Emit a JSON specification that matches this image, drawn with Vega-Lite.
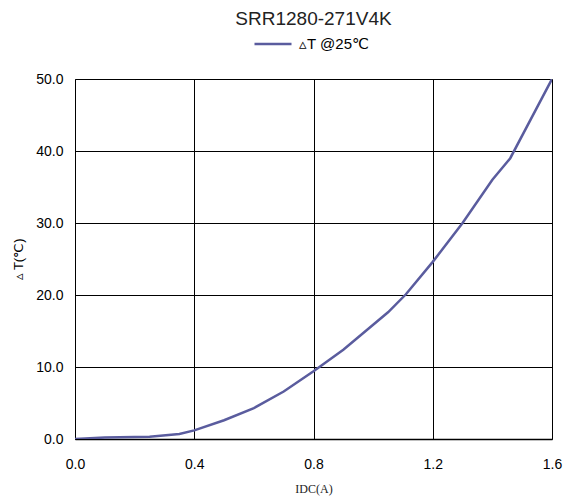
{
  "$schema": "https://vega.github.io/schema/vega-lite/v6.json",
  "width": 477,
  "height": 360,
  "autosize": {"type": "none"},
  "padding": {"left": 75, "top": 79, "right": 12, "bottom": 59},
  "background": "white",
  "title": {"text": "SRR1280-271V4K", "font": "Liberation Sans", "fontSize": 19, "fontWeight": "normal", "color": "#222222", "frame": "group", "offset": 8, "dy": 13},
  "data": {"values": [
    {"x": 0, "y": 0, "s": "▵T @25℃"},
    {"x": 0.1, "y": 0.2, "s": "▵T @25℃"},
    {"x": 0.25, "y": 0.3, "s": "▵T @25℃"},
    {"x": 0.35, "y": 0.7, "s": "▵T @25℃"},
    {"x": 0.4, "y": 1.2, "s": "▵T @25℃"},
    {"x": 0.5, "y": 2.6, "s": "▵T @25℃"},
    {"x": 0.6, "y": 4.3, "s": "▵T @25℃"},
    {"x": 0.7, "y": 6.6, "s": "▵T @25℃"},
    {"x": 0.8, "y": 9.4, "s": "▵T @25℃"},
    {"x": 0.9, "y": 12.4, "s": "▵T @25℃"},
    {"x": 1.05, "y": 17.6, "s": "▵T @25℃"},
    {"x": 1.11, "y": 20.1, "s": "▵T @25℃"},
    {"x": 1.2, "y": 24.6, "s": "▵T @25℃"},
    {"x": 1.3, "y": 30, "s": "▵T @25℃"},
    {"x": 1.4, "y": 36, "s": "▵T @25℃"},
    {"x": 1.46, "y": 39, "s": "▵T @25℃"},
    {"x": 1.6, "y": 50, "s": "▵T @25℃"}
  ]},
  "mark": {"type": "line", "strokeWidth": 2.5, "clip": true},
  "encoding": {
    "x": {"field": "x", "type": "quantitative",
      "scale": {"domain": [0, 1.6], "nice": false, "zero": false},
      "axis": {"title": "IDC(A)", "titleFont": "Liberation Serif", "titleFontSize": 12, "titleFontWeight": "normal", "titleColor": "#222", "titlePadding": 12,
        "values": [0, 0.4, 0.8, 1.2, 1.6], "format": ".1f", "labelFont": "Liberation Sans", "labelFontSize": 14, "labelColor": "#000", "labelPadding": 18, "labelFlush": false,
        "ticks": false, "grid": true, "gridColor": "#000", "gridOpacity": 1, "gridWidth": 1, "domainColor": "#000", "domainWidth": 1.5}},
    "y": {"field": "y", "type": "quantitative",
      "scale": {"domain": [0, 50], "nice": false},
      "axis": {"title": "▵ T(℃)", "titleFont": "Liberation Sans", "titleFontSize": 13, "titleFontWeight": "normal", "titleColor": "#000", "titlePadding": 10,
        "values": [0, 10, 20, 30, 40, 50], "format": ".1f", "labelFont": "Liberation Sans", "labelFontSize": 14, "labelColor": "#000", "labelPadding": 12,
        "ticks": false, "grid": true, "gridColor": "#000", "gridOpacity": 1, "gridWidth": 1, "domainColor": "#000", "domainWidth": 1}},
    "color": {"field": "s", "type": "nominal", "scale": {"range": ["#5a5c9e"]},
      "legend": {"title": null, "orient": "none", "legendX": 178, "legendY": -55, "symbolType": "stroke", "symbolSize": 1369, "symbolStrokeWidth": 2.5,
        "labelFont": "Liberation Sans", "labelFontSize": 15, "labelColor": "#000", "labelOffset": 6}}
  }
}
